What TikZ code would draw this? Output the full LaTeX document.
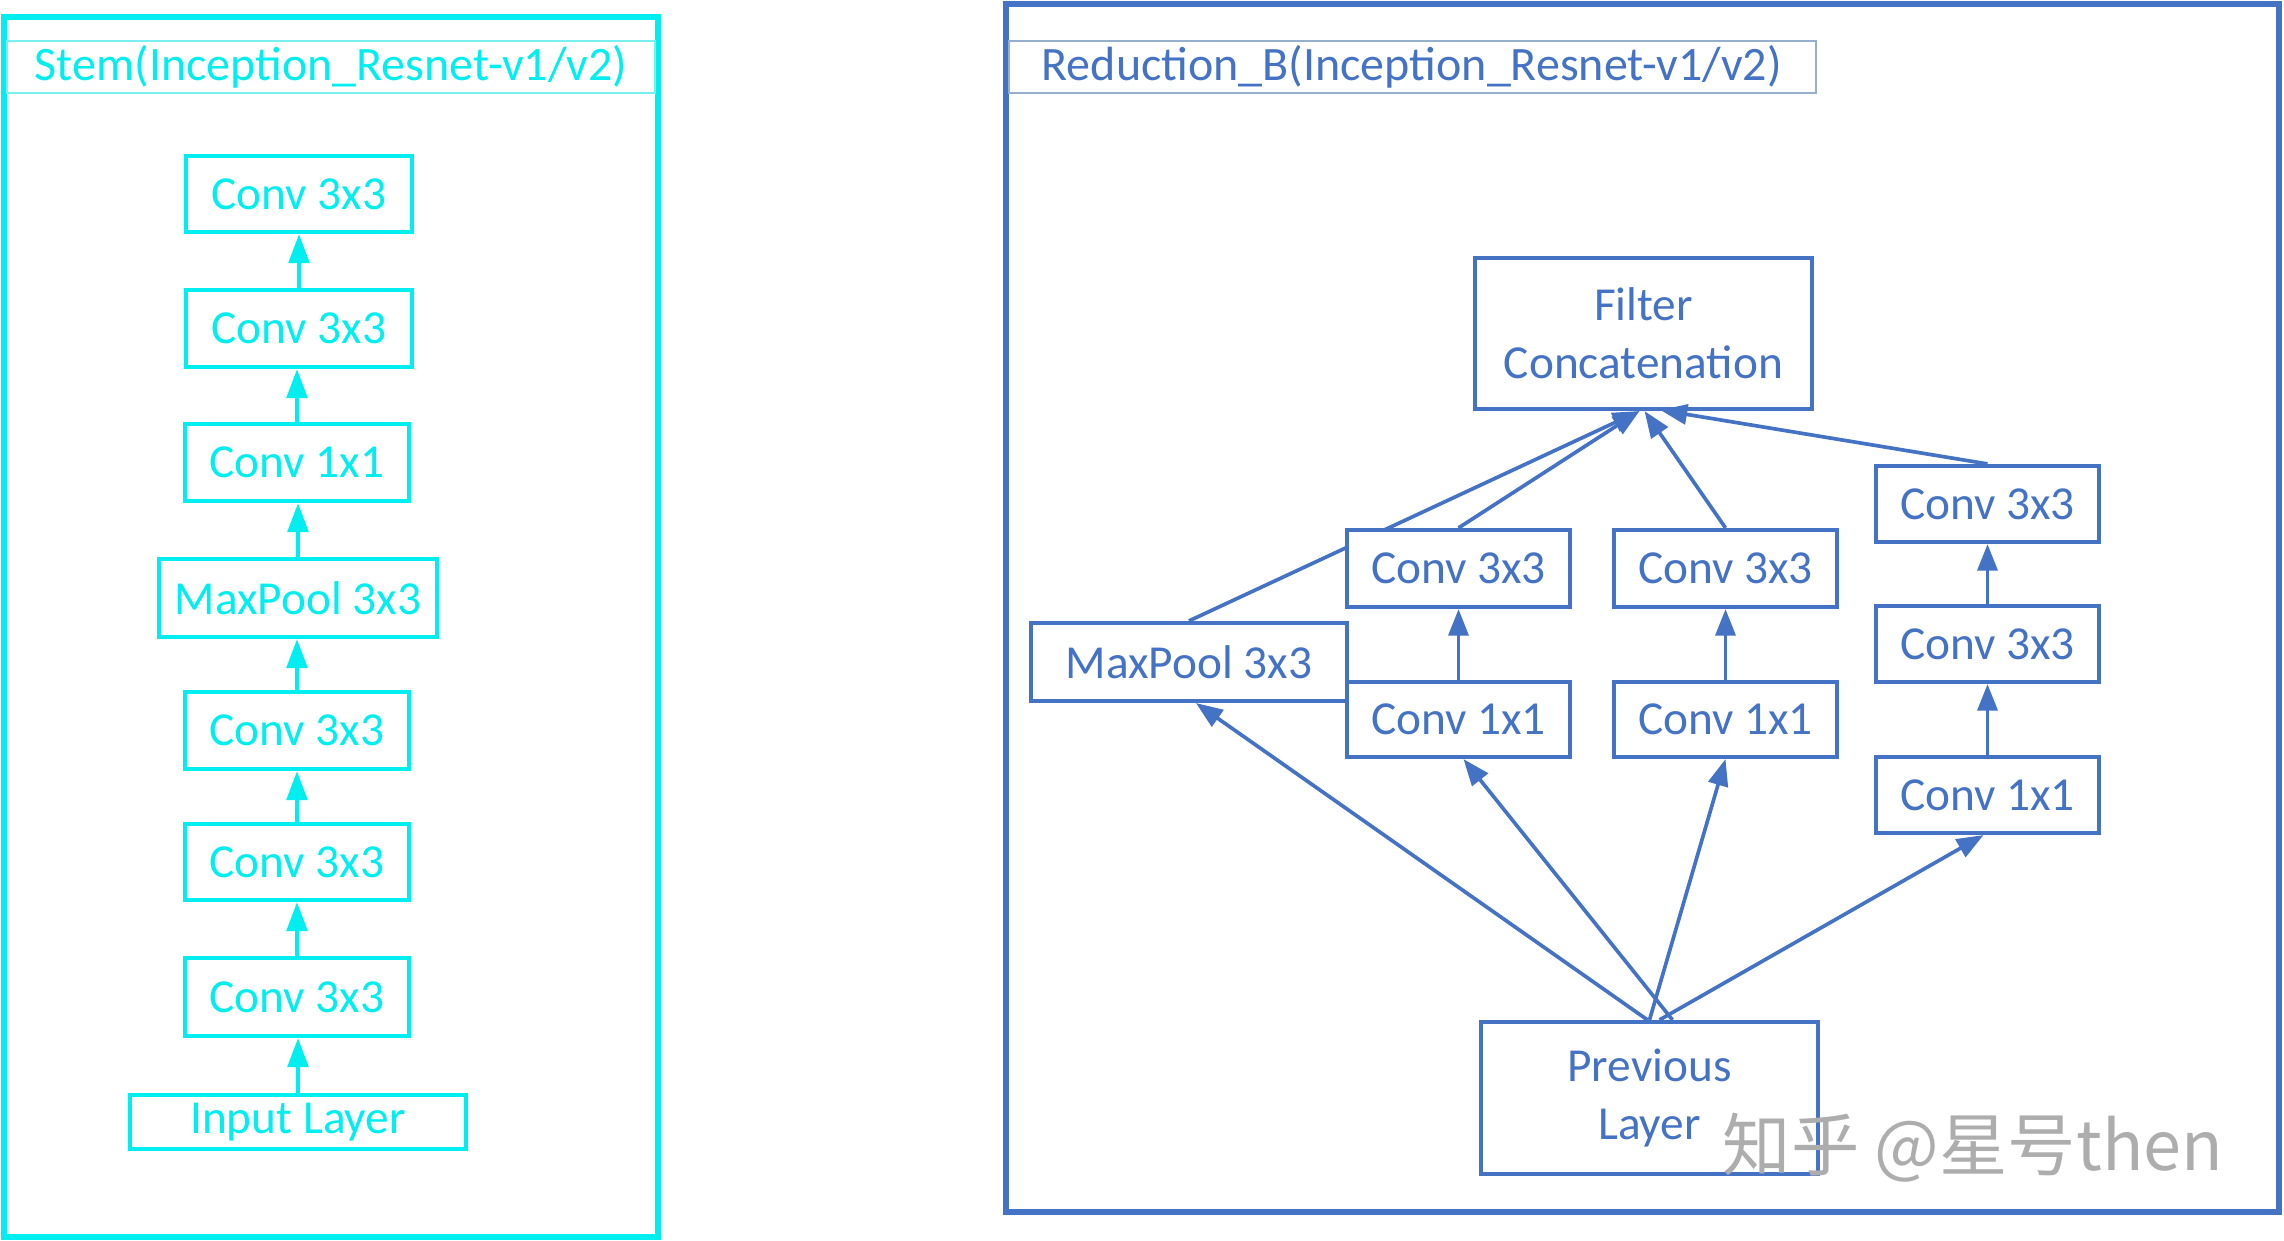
\documentclass[tikz,border=0pt]{standalone}
\usepackage{fontspec}
\setmainfont{Carlito}
\newfontfamily\cjk{Noto Sans CJK SC}
\usetikzlibrary{arrows.meta,backgrounds}
\definecolor{cy}{RGB}{0,238,240}
\definecolor{cyl}{RGB}{120,240,240}
\definecolor{bl}{RGB}{68,114,196}
\definecolor{ttl}{RGB}{150,175,205}
\newcommand\bx[7]{\node[#1, minimum width={(#4-#2)*0.3pt}, minimum height={(#5-#3)*0.3pt}] (#6) at ({(#2+#4)/2},{(#3+#5)/2}) {#7};}
\begin{document}
\begin{tikzpicture}[x=0.3pt,y=-0.3pt,
  cbox/.style={draw=cy, line width=1.3pt, text=cy, fill=white, inner sep=0pt, font=\fontsize{14.2}{17}\selectfont},
  bbox/.style={draw=bl, line width=1.25pt, text=bl, fill=white, inner sep=0pt, align=center, font=\fontsize{14.2}{17.4}\selectfont},
  carr/.style={draw=cy, line width=1.15pt, -{Triangle[length=8.7pt,width=6.2pt]}},
  barr/.style={draw=bl, line width=1.1pt, -{Triangle[length=8pt,width=6pt]}},
  frameL/.style={draw=cy, line width=1.8pt},
  frameR/.style={draw=bl, line width=1.8pt},
]
\useasboundingbox (0,0) rectangle (2284,1241);

% ---------- left panel ----------
\draw[frameL] (4,17) rectangle (658,1237);
\bx{draw=cyl, line width=0.6pt, inner sep=0pt}{7}{41}{655}{93}{stemband}{}
\node[text=cy, font=\fontsize{14.4}{17}\selectfont] (stemtitle) at (331,67) {Stem(Inception\_Resnet-v1/v2)};

\bx{cbox}{186}{156}{412}{232}{c1}{Conv 3x3}
\bx{cbox}{186}{290}{412}{367}{c2}{Conv 3x3}
\bx{cbox}{185}{424}{409}{501}{c3}{Conv 1x1}
\bx{cbox}{159}{559}{437}{637}{mp}{MaxPool 3x3}
\bx{cbox}{185}{692}{409}{769}{c4}{Conv 3x3}
\bx{cbox}{185}{824}{409}{900}{c5}{Conv 3x3}
\bx{cbox}{185}{958}{409}{1036}{c6}{Conv 3x3}
\bx{cbox}{130}{1095}{466}{1149}{inp}{Input Layer}

\draw[carr] (inp.north) -- (inp.north |- c6.south);
\draw[carr] (c6.north) -- (c6.north |- c5.south);
\draw[carr] (c5.north) -- (c5.north |- c4.south);
\draw[carr] (c4.north) -- (c4.north |- mp.south);
\draw[carr] (mp.north) -- (mp.north |- c3.south);
\draw[carr] (c3.north) -- (c3.north |- c2.south);
\draw[carr] (c2.north) -- (c2.north |- c1.south);

% ---------- right panel ----------
\draw[frameR] (1006,4) rectangle (2279,1212);
\bx{draw=ttl, line width=0.6pt, inner sep=0pt}{1009}{41}{1816}{93}{redband}{}
\node[anchor=west, text=bl, inner sep=0pt, font=\fontsize{14.4}{17}\selectfont] (redtitle) at (1041,67) {Reduction\_B(Inception\_Resnet-v1/v2)};

\bx{bbox}{1475}{258}{1812}{409}{fc}{Filter\\Concatenation}
\bx{bbox}{1347}{530}{1570}{607}{ca3}{Conv 3x3}
\bx{bbox}{1347}{682}{1570}{757}{ca1}{Conv 1x1}
\bx{bbox}{1031}{623}{1347}{701}{rmp}{MaxPool 3x3}
\bx{bbox}{1614}{530}{1837}{607}{cb3}{Conv 3x3}
\bx{bbox}{1614}{682}{1837}{757}{cb1}{Conv 1x1}
\bx{bbox}{1876}{466}{2099}{542}{cc3}{Conv 3x3}
\bx{bbox}{1876}{606}{2099}{682}{cc2}{Conv 3x3}
\bx{bbox}{1876}{757}{2099}{833}{cc1}{Conv 1x1}
\bx{bbox}{1481}{1022}{1818}{1174}{prev}{Previous\\Layer}

\begin{scope}[on background layer]
\draw[barr] (rmp.north) -- ([xshift=-4*0.3pt]fc.south);
\end{scope}
\draw[barr] (ca3.north) -- ([xshift=-4*0.3pt]fc.south);
\draw[barr] (cb3.north) -- ([xshift=1*0.3pt]fc.south);
\draw[barr] (cc3.north) -- ([xshift=17*0.3pt,yshift=1*0.3pt]fc.south);

\draw[barr] (ca1.north) -- (ca3.south);
\draw[barr] (cb1.north) -- (cb3.south);
\draw[barr] (cc1.north) -- (cc2.south);
\draw[barr] (cc2.north) -- (cc3.south);

\draw[barr] ([xshift=-2*0.3pt]prev.north) -- ([xshift=7*0.3pt]rmp.south);
\draw[barr] ([xshift=23*0.3pt]prev.north) -- ([xshift=5*0.3pt]ca1.south);
\draw[barr] (prev.north) -- (cb1.south);
\draw[barr] ([xshift=10*0.3pt]prev.north) -- ([xshift=-4*0.3pt]cc1.south);

\node[text=black!32, font=\cjk\fontsize{20.5}{24}\selectfont, inner sep=0pt] (wm) at (1973,1148) {知乎 @星号then};
\end{tikzpicture}
\end{document}
